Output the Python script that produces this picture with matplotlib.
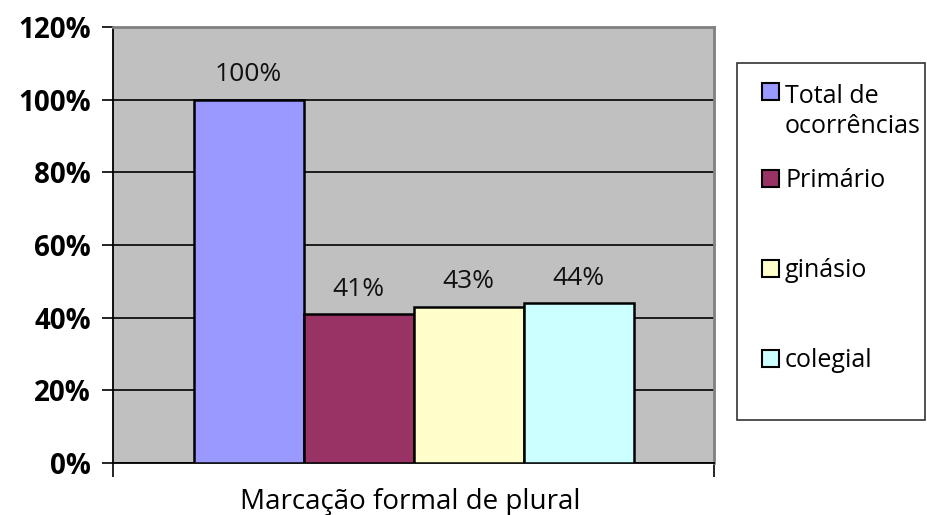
import matplotlib.pyplot as plt
from matplotlib.patches import Rectangle

series = ['Total de\nocorrências', 'Primário', 'ginásio', 'colegial']
values = [1.00, 0.41, 0.43, 0.44]
labels = ['100%', '41%', '43%', '44%']
colors = ['#9999FF', '#993366', '#FFFFCC', '#CCFFFF']
yticks = [0, 0.2, 0.4, 0.6, 0.8, 1.0, 1.2]
ytick_labels = ['0%', '20%', '40%', '60%', '80%', '100%', '120%']
category = 'Marcação formal de plural'

plt.rcParams['font.family'] = ['Open Sans', 'DejaVu Sans']

fig = plt.figure(figsize=(9.27, 5.15), dpi=100)
ax = fig.add_axes([113 / 927, 1 - 463 / 515, 601 / 927, 436 / 515])
ax.set_facecolor('#C0C0C0')

w = 110 / 601
offsets = [-1.5, -0.5, 0.5, 1.5]
for off, v, c, lab in zip(offsets, values, colors, labels):
    ax.bar(off * w, v, width=w, color=c, edgecolor='black', linewidth=1.8, zorder=3)
    ax.annotate(lab, (off * w, v), xytext=(0, 9), textcoords='offset points',
                ha='center', va='bottom', fontsize=19, color='#111111')

ax.set_xlim(-0.5, 0.5)
ax.set_ylim(0, 1.2)
ax.set_yticks(yticks)
ax.set_yticklabels(ytick_labels, fontsize=20, fontweight='bold')
ax.yaxis.grid(True, color='black', linewidth=1.2, zorder=0)
ax.set_axisbelow(True)
ax.set_xticks([-0.5, 0.5])
ax.set_xticklabels(['', ''])
ax.tick_params(axis='y', direction='out', length=8, width=1.2, pad=8)
ax.tick_params(axis='x', direction='out', length=10, width=1.2)

for s in ['top', 'right']:
    ax.spines[s].set_color('#808080')
    ax.spines[s].set_linewidth(2)
for s in ['left', 'bottom']:
    ax.spines[s].set_color('black')
    ax.spines[s].set_linewidth(1.3)

fig.text(410 / 927, 1 - 509 / 515, category, ha='center', va='baseline', fontsize=20)

# legend box drawn by hand to match the multi-line layout
fig.add_artist(Rectangle((737 / 927, 1 - 420 / 515), 188 / 927, 357 / 515,
                         transform=fig.transFigure, facecolor='white',
                         edgecolor='#333333', linewidth=1.2))
square_bottoms = [100, 187, 277, 367]
text_baselines = [133, 187, 277, 367]  # baseline of the last text line
for name, c, sq, tb in zip(series, colors, square_bottoms, text_baselines):
    fig.add_artist(Rectangle((762 / 927, 1 - sq / 515), 17 / 927, 17 / 515,
                             transform=fig.transFigure, facecolor=c,
                             edgecolor='black', linewidth=1.5))
    fig.text(785 / 927, 1 - tb / 515, name, ha='left', va='baseline',
             multialignment='left', fontsize=18, linespacing=1.26)

fig.savefig('out.png', dpi=100)
